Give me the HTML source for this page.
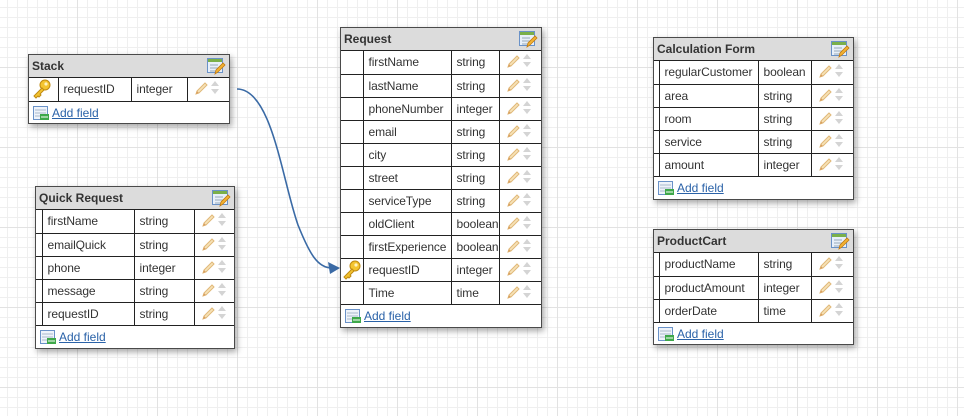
<!DOCTYPE html>
<html><head><meta charset="utf-8"><style>
html,body{margin:0;padding:0;}
body{width:964px;height:416px;position:relative;overflow:hidden;font-family:"Liberation Sans",sans-serif;
background-color:#fff;
background-image:
linear-gradient(to right,#e2e2e2 1px,transparent 1px),
linear-gradient(to bottom,#e2e2e2 1px,transparent 1px),
linear-gradient(to right,#efefef 1px,transparent 1px),
linear-gradient(to bottom,#efefef 1px,transparent 1px);
background-size:80px 80px,80px 80px,10px 10px,10px 10px;
background-position:77px 0,0 67px,7px 0,0 7px;}
.box{position:absolute;background:#fff;border:1px solid #4a4a4a;box-shadow:2px 3px 6px rgba(0,0,0,.35);box-sizing:border-box;}
.hd{height:23px;box-sizing:border-box;background:#dcdcdc;border-bottom:1px solid #222;font-size:12px;font-weight:bold;color:#333;line-height:22px;padding-left:3px;position:relative;}
.hd .ed{position:absolute;right:3px;top:3px;}
table{border-collapse:collapse;table-layout:fixed;width:100%;}
td{height:23px;border-right:1px solid #222;border-bottom:1px solid #222;padding:0 0 0 5px;font-size:12px;letter-spacing:-0.1px;color:#333;white-space:nowrap;overflow:hidden;box-sizing:border-box;}
td.k{padding:0;}
td.ic{border-right:none;padding:0 0 0 6px;}
.af{height:23px;line-height:22px;font-size:12px;padding-left:4px;}
.af a{color:#2a62a8;text-decoration:underline;margin-left:3px;vertical-align:middle;}
.af svg{vertical-align:middle;}
</style></head><body>

<svg width="0" height="0" style="position:absolute">
<defs>
<g id="pen"><path d="M2 13 L3 10 L11 2 L13 4 L5 12 Z" fill="#f7e2b6" stroke="#e0b878" stroke-width="1"/><path d="M2 13 L3 10 L5 12Z" fill="#d9a060"/></g>
<g id="ud"><path d="M4 1 L8 6 L0 6Z" fill="#d4d4d4"/><path d="M0 9 L8 9 L4 14Z" fill="#d4d4d4"/></g>
<g id="edit"><rect x="0.5" y="0.5" width="15" height="14" fill="#e8f0fa" stroke="#6a92c8"/><rect x="1" y="1" width="14" height="3" fill="#7ab04a"/><path d="M3 7h8M3 10h8M3 13h6" stroke="#9ab" stroke-width="1"/><path d="M8 16 L9 12 L16 5 L18 7 L11 14Z" fill="#f2b233" stroke="#c07a10" stroke-width=".8"/></g>
<g id="add"><rect x="0.5" y="0.5" width="14" height="13" fill="#eef3fa" stroke="#6a92c8"/><path d="M2 4h11M2 7h11M2 10h11" stroke="#aab8cc"/><rect x="7" y="8" width="9" height="6" fill="#3ea84a"/><path d="M8 11h7" stroke="#fff"/></g>
<g id="key"><circle cx="13" cy="6" r="5" fill="#f4c430" stroke="#c08a10"/><circle cx="14" cy="5" r="1.6" fill="#fff3c0"/><path d="M10 9 L2 17 L4 19 L6 17 L7 18 L9 16 L8 15 L12 11Z" fill="#f4c430" stroke="#c08a10"/></g>
</defs></svg>

<svg style="position:absolute;left:0;top:0" width="964" height="416">
<path d="M237 89 C272 89 282 180 298 225 C310 255 318 268 332 268" fill="none" stroke="#3a6aa5" stroke-width="1.6"/>
<path d="M340 268 L328 262 L330 274Z" fill="#3a6aa5"/>
</svg>

<div class="box" style="left:28px;top:54px;width:202px;height:70px;">
<div class="hd">Stack<svg class="ed" width="19" height="17"><use href="#edit"/></svg></div>
<table><colgroup><col style="width:29px"><col style="width:73px"><col style="width:56px"><col></colgroup>
<tr><td class="k"><svg width="22" height="20" style="display:block;margin-left:3px"><use href="#key"/></svg></td><td>requestID</td><td>integer</td><td class="ic"><svg width="14" height="14"><use href="#pen"/></svg> <svg width="9" height="15"><use href="#ud"/></svg></td></tr>
</table>
<div class="af"><svg width="16" height="14"><use href="#add"/></svg><a>Add field</a></div>
</div>

<div class="box" style="left:35px;top:186px;width:200px;height:163px;">
<div class="hd">Quick Request<svg class="ed" width="19" height="17"><use href="#edit"/></svg></div>
<table><colgroup><col style="width:6px"><col style="width:92px"><col style="width:60px"><col></colgroup>
<tr><td class="k"></td><td>firstName</td><td>string</td><td class="ic"><svg width="14" height="14"><use href="#pen"/></svg> <svg width="9" height="15"><use href="#ud"/></svg></td></tr>
<tr><td class="k"></td><td>emailQuick</td><td>string</td><td class="ic"><svg width="14" height="14"><use href="#pen"/></svg> <svg width="9" height="15"><use href="#ud"/></svg></td></tr>
<tr><td class="k"></td><td>phone</td><td>integer</td><td class="ic"><svg width="14" height="14"><use href="#pen"/></svg> <svg width="9" height="15"><use href="#ud"/></svg></td></tr>
<tr><td class="k"></td><td>message</td><td>string</td><td class="ic"><svg width="14" height="14"><use href="#pen"/></svg> <svg width="9" height="15"><use href="#ud"/></svg></td></tr>
<tr><td class="k"></td><td>requestID</td><td>string</td><td class="ic"><svg width="14" height="14"><use href="#pen"/></svg> <svg width="9" height="15"><use href="#ud"/></svg></td></tr>
</table>
<div class="af"><svg width="16" height="14"><use href="#add"/></svg><a>Add field</a></div>
</div>

<div class="box" style="left:340px;top:27px;width:202px;height:301px;">
<div class="hd">Request<svg class="ed" width="19" height="17"><use href="#edit"/></svg></div>
<table><colgroup><col style="width:22px"><col style="width:88px"><col style="width:48px"><col></colgroup>
<tr><td class="k"></td><td>firstName</td><td>string</td><td class="ic"><svg width="14" height="14"><use href="#pen"/></svg> <svg width="9" height="15"><use href="#ud"/></svg></td></tr>
<tr><td class="k"></td><td>lastName</td><td>string</td><td class="ic"><svg width="14" height="14"><use href="#pen"/></svg> <svg width="9" height="15"><use href="#ud"/></svg></td></tr>
<tr><td class="k"></td><td>phoneNumber</td><td>integer</td><td class="ic"><svg width="14" height="14"><use href="#pen"/></svg> <svg width="9" height="15"><use href="#ud"/></svg></td></tr>
<tr><td class="k"></td><td>email</td><td>string</td><td class="ic"><svg width="14" height="14"><use href="#pen"/></svg> <svg width="9" height="15"><use href="#ud"/></svg></td></tr>
<tr><td class="k"></td><td>city</td><td>string</td><td class="ic"><svg width="14" height="14"><use href="#pen"/></svg> <svg width="9" height="15"><use href="#ud"/></svg></td></tr>
<tr><td class="k"></td><td>street</td><td>string</td><td class="ic"><svg width="14" height="14"><use href="#pen"/></svg> <svg width="9" height="15"><use href="#ud"/></svg></td></tr>
<tr><td class="k"></td><td>serviceType</td><td>string</td><td class="ic"><svg width="14" height="14"><use href="#pen"/></svg> <svg width="9" height="15"><use href="#ud"/></svg></td></tr>
<tr><td class="k"></td><td>oldClient</td><td>boolean</td><td class="ic"><svg width="14" height="14"><use href="#pen"/></svg> <svg width="9" height="15"><use href="#ud"/></svg></td></tr>
<tr><td class="k"></td><td>firstExperience</td><td>boolean</td><td class="ic"><svg width="14" height="14"><use href="#pen"/></svg> <svg width="9" height="15"><use href="#ud"/></svg></td></tr>
<tr><td class="k"><svg width="20" height="20" style="display:block;margin-left:1px"><use href="#key"/></svg></td><td>requestID</td><td>integer</td><td class="ic"><svg width="14" height="14"><use href="#pen"/></svg> <svg width="9" height="15"><use href="#ud"/></svg></td></tr>
<tr><td class="k"></td><td>Time</td><td>time</td><td class="ic"><svg width="14" height="14"><use href="#pen"/></svg> <svg width="9" height="15"><use href="#ud"/></svg></td></tr>
</table>
<div class="af"><svg width="16" height="14"><use href="#add"/></svg><a>Add field</a></div>
</div>

<div class="box" style="left:653px;top:37px;width:201px;height:163px;">
<div class="hd">Calculation Form<svg class="ed" width="19" height="17"><use href="#edit"/></svg></div>
<table><colgroup><col style="width:5px"><col style="width:99px"><col style="width:53px"><col></colgroup>
<tr><td class="k"></td><td>regularCustomer</td><td>boolean</td><td class="ic"><svg width="14" height="14"><use href="#pen"/></svg> <svg width="9" height="15"><use href="#ud"/></svg></td></tr>
<tr><td class="k"></td><td>area</td><td>string</td><td class="ic"><svg width="14" height="14"><use href="#pen"/></svg> <svg width="9" height="15"><use href="#ud"/></svg></td></tr>
<tr><td class="k"></td><td>room</td><td>string</td><td class="ic"><svg width="14" height="14"><use href="#pen"/></svg> <svg width="9" height="15"><use href="#ud"/></svg></td></tr>
<tr><td class="k"></td><td>service</td><td>string</td><td class="ic"><svg width="14" height="14"><use href="#pen"/></svg> <svg width="9" height="15"><use href="#ud"/></svg></td></tr>
<tr><td class="k"></td><td>amount</td><td>integer</td><td class="ic"><svg width="14" height="14"><use href="#pen"/></svg> <svg width="9" height="15"><use href="#ud"/></svg></td></tr>
</table>
<div class="af"><svg width="16" height="14"><use href="#add"/></svg><a>Add field</a></div>
</div>

<div class="box" style="left:653px;top:229px;width:201px;height:116px;">
<div class="hd">ProductCart<svg class="ed" width="19" height="17"><use href="#edit"/></svg></div>
<table><colgroup><col style="width:5px"><col style="width:99px"><col style="width:53px"><col></colgroup>
<tr><td class="k"></td><td>productName</td><td>string</td><td class="ic"><svg width="14" height="14"><use href="#pen"/></svg> <svg width="9" height="15"><use href="#ud"/></svg></td></tr>
<tr><td class="k"></td><td>productAmount</td><td>integer</td><td class="ic"><svg width="14" height="14"><use href="#pen"/></svg> <svg width="9" height="15"><use href="#ud"/></svg></td></tr>
<tr><td class="k"></td><td>orderDate</td><td>time</td><td class="ic"><svg width="14" height="14"><use href="#pen"/></svg> <svg width="9" height="15"><use href="#ud"/></svg></td></tr>
</table>
<div class="af"><svg width="16" height="14"><use href="#add"/></svg><a>Add field</a></div>
</div>

</body></html>
